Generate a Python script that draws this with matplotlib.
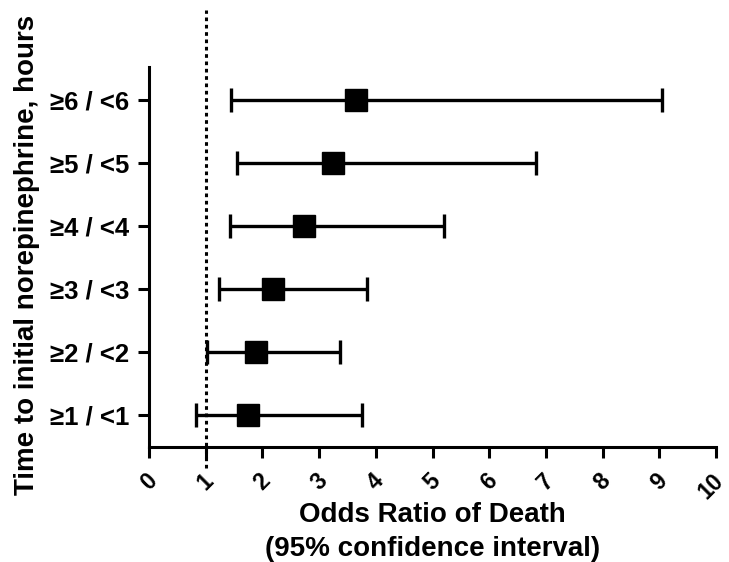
import matplotlib
matplotlib.use('Agg')
import matplotlib.pyplot as plt
from matplotlib.transforms import ScaledTranslation

plt.rcParams['font.family'] = ['Liberation Sans', 'DejaVu Sans']
plt.rcParams['font.weight'] = 'bold'

# data
labels = ['≥1 / <1', '≥2 / <2', '≥3 / <3', '≥4 / <4', '≥5 / <5', '≥6 / <6']
odds = [1.75, 1.88, 2.18, 2.74, 3.25, 3.65]
lower = [0.82, 1.03, 1.23, 1.43, 1.55, 1.45]
upper = [3.75, 3.37, 3.84, 5.20, 6.83, 9.04]
rows = [1, 2, 3, 4, 5, 6]

fig = plt.figure(figsize=(7.29, 5.62), dpi=100)
ax = fig.add_axes([0.2044, 0.2046, 0.7778, 0.6762])

err_lo = [o - l for o, l in zip(odds, lower)]
err_hi = [u - o for o, u in zip(odds, upper)]
ax.errorbar(odds, rows, xerr=[err_lo, err_hi], fmt='s', color='black',
            markersize=16, elinewidth=2.4, capsize=8.5, capthick=2.4, zorder=3)

# reference line at OR = 1
ax.plot([1, 1], [0.17, 7.43], color='black', linestyle=(0, (1.2, 1.2)),
        linewidth=2.2, clip_on=False, zorder=2)

ax.set_xlim(0, 10)
ax.set_ylim(0.5, 6.52)
ax.set_xticks(range(0, 11))
ax.set_yticks(rows)
ax.set_yticklabels(labels)

ax.tick_params(axis='both', width=2.2, length=8)
ax.tick_params(axis='x', pad=8, labelsize=16.5)
ax.tick_params(axis='y', pad=6, labelsize=18.5)

xlabels = ax.get_xticklabels()
for lab in xlabels:
    lab.set_rotation(45)
    lab.set_ha('center')
# nudge the last label so it stays inside the figure
xlabels[-1].set_transform(xlabels[-1].get_transform()
                          + ScaledTranslation(-4 / 72, 0, fig.dpi_scale_trans))

ax.spines['top'].set_visible(False)
ax.spines['right'].set_visible(False)
ax.spines['left'].set_linewidth(2.2)
ax.spines['bottom'].set_linewidth(2.2)

ax.set_xlabel('Odds Ratio of Death\n(95% confidence interval)', fontsize=20,
              fontweight='bold', linespacing=1.4)
ax.xaxis.set_label_coords(0.5, -0.146)
ax.set_ylabel('Time to initial norepinephrine, hours', fontsize=20,
              fontweight='bold')
ax.yaxis.set_label_coords(-0.192, 0.505)

plt.savefig('out.png', dpi=100)
